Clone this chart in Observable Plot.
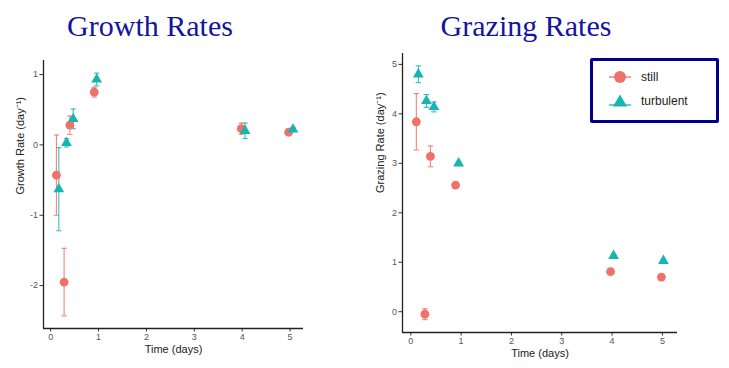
<!DOCTYPE html>
<html>
<head>
<meta charset="utf-8">
<script src="https://cdn.jsdelivr.net/npm/d3@7"></script>
<script src="https://cdn.jsdelivr.net/npm/@observablehq/plot@0.6"></script>
<style>
  html, body { margin: 0; padding: 0; background: #fff; }
  #root { position: relative; width: 729px; height: 368px; overflow: hidden; font-family: "Liberation Sans", Arial, sans-serif; }
  .title { position: absolute; top: 9px; font-family: "Liberation Serif", "DejaVu Serif", serif; font-size: 30px; color: #1414a0; white-space: nowrap; transform: translateX(-50%); }
  .plot { position: absolute; top: 0; }
  #legend { position: absolute; left: 590px; top: 58px; width: 123px; height: 59px; border: 3px solid #00008b; border-radius: 2px; background: #fff; font-size: 12px; color: #222; }
  #legend .row { position: absolute; left: 14px; display: flex; align-items: center; }
  #legend .row span { margin-left: 8px; }
</style>
</head>
<body>
<div id="root">
  <div class="title" style="left:150px">Growth Rates</div>
  <div class="title" style="left:526px">Grazing Rates</div>
  <div id="legend">
    <div class="row" style="top:8px">
      <svg width="26" height="16"><line x1="2" x2="24" y1="8" y2="8" stroke="#F0706A" stroke-width="1.3"/><circle cx="13" cy="8" r="6" fill="#F0706A"/></svg><span>still</span>
    </div>
    <div class="row" style="top:32px">
      <svg width="26" height="16"><line x1="2" x2="24" y1="12" y2="12" stroke="#17B4B4" stroke-width="1.3"/><path d="M13,1.5 L20,13.5 L6,13.5 Z" fill="#17B4B4"/></svg><span>turbulent</span>
    </div>
  </div>
</div>
<script>
// ---- data ----
const series = ["still", "turbulent"];
const colors = ["#F0706A", "#17B4B4"];

// Growth rates
const growthStillTime = [0.12, 0.28, 0.40, 0.91, 3.98, 4.97];
const growthStillRate = [-0.43, -1.95, 0.28, 0.75, 0.23, 0.18];
const growthStillErr  = [0.57, 0.48, 0.13, 0.07, 0.08, 0.03];
const growthTurbTime  = [0.17, 0.33, 0.47, 0.96, 4.06, 5.06];
const growthTurbRate  = [-0.63, 0.03, 0.37, 0.93, 0.20, 0.22];
const growthTurbErr   = [0.59, 0.06, 0.14, 0.09, 0.11, 0.03];

// Grazing rates
const grazeStillTime = [0.11, 0.28, 0.39, 0.89, 3.97, 4.98];
const grazeStillRate = [3.84, -0.05, 3.14, 2.56, 0.81, 0.70];
const grazeStillErr  = [0.57, 0.11, 0.21, 0.04, 0.03, 0.03];
const grazeTurbTime  = [0.15, 0.31, 0.46, 0.95, 4.03, 5.02];
const grazeTurbRate  = [4.80, 4.26, 4.14, 3.00, 1.13, 1.03];
const grazeTurbErr   = [0.17, 0.13, 0.10, 0.03, 0.03, 0.03];

const xTicks = [0, 1, 2, 3, 4, 5];
const xLabel = "Time (days)";

function rows(times, rates, errs, s) {
  return times.map((t, i) => ({series: s, time: t, rate: rates[i], err: errs[i]}));
}
const growth = [
  ...rows(growthStillTime, growthStillRate, growthStillErr, "still"),
  ...rows(growthTurbTime, growthTurbRate, growthTurbErr, "turbulent")
];
const graze = [
  ...rows(grazeStillTime, grazeStillRate, grazeStillErr, "still"),
  ...rows(grazeTurbTime, grazeTurbRate, grazeTurbErr, "turbulent")
];

const capHalf = 0.055;
const fmt = d => `${d}`;

function makePlot(data, opts) {
  const marks = [];
  for (const s of series) {
    const d = data.filter(r => r.series === s);
    marks.push(
      Plot.ruleX(d, {x: "time", y1: r => r.rate - r.err, y2: r => r.rate + r.err, stroke: "series", strokeWidth: 1.1, strokeOpacity: 0.85}),
      Plot.link(d, {x1: r => r.time - capHalf, x2: r => r.time + capHalf, y1: r => r.rate + r.err, y2: r => r.rate + r.err, stroke: "series", strokeWidth: 1.1, strokeOpacity: 0.85}),
      Plot.link(d, {x1: r => r.time - capHalf, x2: r => r.time + capHalf, y1: r => r.rate - r.err, y2: r => r.rate - r.err, stroke: "series", strokeWidth: 1.1, strokeOpacity: 0.85})
    );
  }
  marks.push(
    Plot.dot(data.filter(r => r.series === "still"), {x: "time", y: "rate", fill: "series", r: 4.4, symbol: "circle"}),
    Plot.dot(data.filter(r => r.series === "turbulent"), {x: "time", y: "rate", fill: "series", r: 4.0, symbol: "triangle"}),
    Plot.axisX({ticks: xTicks, tickFormat: fmt, tickSize: 3.5, tickPadding: 2, fontSize: 9, color: "#555", stroke: "#333", label: null}),
    Plot.axisY({ticks: opts.yTicks, tickFormat: fmt, tickSize: 3.5, tickPadding: 2, fontSize: 9, color: "#555", stroke: "#333", label: null}),
    Plot.ruleX([opts.xDomain[0]], {stroke: "#222", strokeWidth: 1.3}),
    Plot.ruleY([opts.yDomain[0]], {stroke: "#222", strokeWidth: 1.3}),
    Plot.text([xLabel], {text: d => d, frameAnchor: "bottom", lineAnchor: "middle", dy: 21, fontSize: 11, fill: "#222"}),
    Plot.text([opts.yLabel], {text: d => d, frameAnchor: "left", dx: opts.yLabelDx, rotate: -90, fontSize: 11, fill: "#222"})
  );
  return Plot.plot({
    width: opts.width, height: 368,
    marginLeft: opts.ml, marginRight: opts.mr, marginTop: opts.mt, marginBottom: opts.mb,
    style: {fontFamily: "Liberation Sans, Arial, sans-serif", fontSize: "9px", background: "transparent", overflow: "visible"},
    x: {domain: opts.xDomain},
    y: {domain: opts.yDomain},
    color: {domain: series, range: colors},
    marks
  });
}

const left = makePlot(growth, {
  width: 320, ml: 43, mr: 17, mt: 60, mb: 40,
  xDomain: [-0.15, 5.28], yDomain: [-2.61, 1.2], yTicks: [-2, -1, 0, 1],
  yLabel: "Growth Rate (day⁻¹)", yLabelDx: -23
});
left.classList.add("plot");
left.style.left = "0px";

const right = makePlot(graze, {
  width: 369, ml: 42, mr: 52, mt: 53, mb: 36,
  xDomain: [-0.165, 5.3], yDomain: [-0.42, 5.22], yTicks: [0, 1, 2, 3, 4, 5],
  yLabel: "Grazing Rate (day⁻¹)", yLabelDx: -22
});
right.classList.add("plot");
right.style.left = "360px";

const root = document.getElementById("root");
root.insertBefore(right, root.firstChild);
root.insertBefore(left, root.firstChild);
</script>
</body>
</html>
